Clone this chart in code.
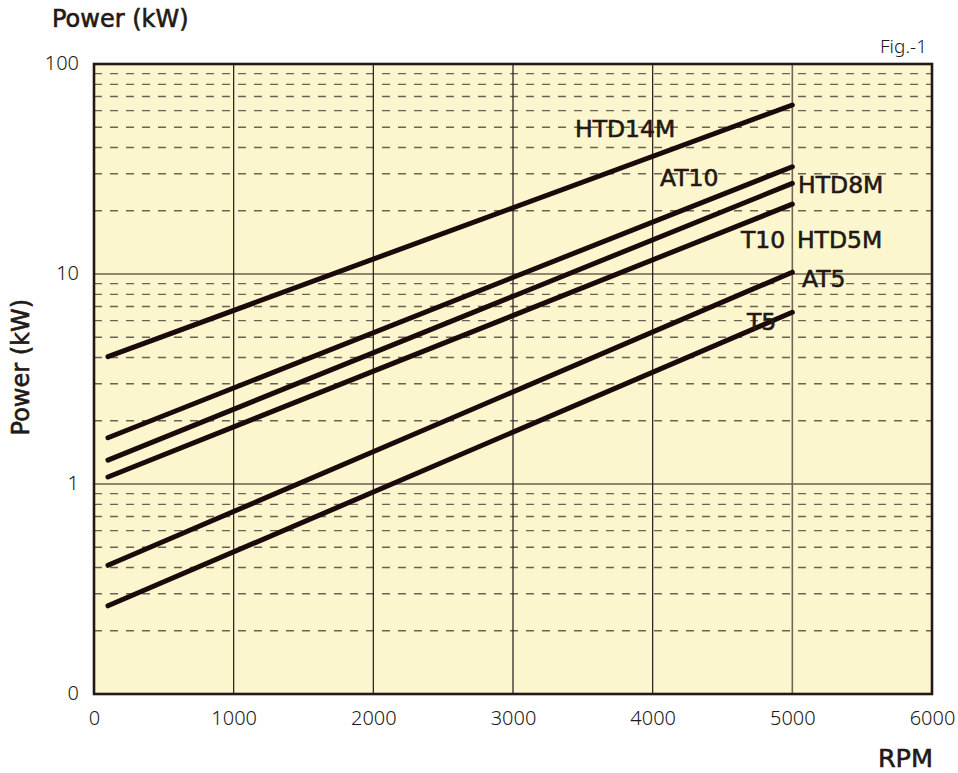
<!DOCTYPE html>
<html lang="en">
  <head>
    <meta charset="UTF-8" />
    <title>Power vs RPM</title>
    <script src="https://d3js.org/d3.v7.min.js"></script>
    <style>
      body {
        margin: 0;
        background: #ffffff;
      }
      svg text {
        fill: #231815;
      }
      .tick-label {
        font-family: 'Noto Sans', sans-serif;
        font-size: 20px;
        font-weight: 300;
      }
      .heavy {
        font-family: 'DejaVu Sans', sans-serif;
        stroke: #231815;
        stroke-width: 0.6px;
      }
    </style>
  </head>
  <body>
    <div id="chart"></div>
    <script>
      // belt series: power (kW) at the start and end rpm
      const rpmPoints = [100, 5000];
      const seriesNames = ['HTD14M', 'AT10', 'HTD8M', 'HTD5M', 'AT5', 'T5'];
      const seriesValues = [
        [4.04, 63.8],
        [1.66, 32.4],
        [1.3, 27.0],
        [1.08, 21.5],
        [0.41, 10.2],
        [0.263, 6.57],
      ];

      // label anchors in data units (rpm, kW)
      const labelTexts = ['HTD14M', 'AT10', 'HTD8M', 'T10', 'HTD5M', 'AT5', 'T5'];
      const labelRpm = [3444, 4052, 5041, 4632, 5033, 5069, 4675];
      const labelKw = [44.9, 26.2, 24.4, 13.3, 13.3, 8.67, 5.41];

      const xTicks = [0, 1000, 2000, 3000, 4000, 5000, 6000];
      const yTicks = [0.1, 1, 10, 100];
      const yTickLabels = ['0', '1', '10', '100'];

      const width = 958;
      const height = 773;
      const margin = { top: 64, right: 26, bottom: 79, left: 94 };

      const svg = d3
        .select('#chart')
        .append('svg')
        .attr('width', width)
        .attr('height', height);

      const x = d3
        .scaleLinear()
        .domain([0, 6000])
        .range([margin.left, width - margin.right]);

      const y = d3
        .scaleLog()
        .domain([0.1, 100])
        .range([height - margin.bottom, margin.top]);

      // plot background
      svg
        .append('rect')
        .attr('x', x(0))
        .attr('y', y(100))
        .attr('width', x(6000) - x(0))
        .attr('height', y(0.1) - y(100))
        .attr('fill', '#fcf6cf');

      // minor (dashed) grid: 2..9 in every decade
      const minor = [];
      for (const d of [0.1, 1, 10]) {
        for (let k = 2; k <= 9; k++) minor.push(d * k);
      }
      svg
        .append('g')
        .selectAll('line')
        .data(minor)
        .join('line')
        .attr('x1', x(0))
        .attr('x2', x(6000))
        .attr('y1', d => y(d))
        .attr('y2', d => y(d))
        .attr('stroke', '#6a6252')
        .attr('stroke-width', 1.4)
        .attr('stroke-dasharray', '8,8');

      // major grid
      svg
        .append('g')
        .selectAll('line')
        .data([1, 10])
        .join('line')
        .attr('x1', x(0))
        .attr('x2', x(6000))
        .attr('y1', d => y(d))
        .attr('y2', d => y(d))
        .attr('stroke', '#231815')
        .attr('stroke-width', 1.2);

      svg
        .append('g')
        .selectAll('line')
        .data(xTicks.slice(1, -1))
        .join('line')
        .attr('x1', d => x(d))
        .attr('x2', d => x(d))
        .attr('y1', y(100))
        .attr('y2', y(0.1))
        .attr('stroke', d => (d === 5000 ? '#6f6756' : '#231815'))
        .attr('stroke-width', d => (d === 5000 ? 1.6 : 1.2));

      // frame
      svg
        .append('rect')
        .attr('x', x(0))
        .attr('y', y(100))
        .attr('width', x(6000) - x(0))
        .attr('height', y(0.1) - y(100))
        .attr('fill', 'none')
        .attr('stroke', '#231815')
        .attr('stroke-width', 2.6);

      // axes (labels only)
      const xAxis = svg
        .append('g')
        .attr('transform', `translate(0,${y(0.1)})`)
        .call(
          d3
            .axisBottom(x)
            .tickValues(xTicks)
            .tickFormat(d3.format('d'))
            .tickSize(0)
            .tickPadding(17)
        );
      xAxis.select('.domain').remove();
      xAxis.selectAll('text').attr('class', 'tick-label');

      const yAxis = svg
        .append('g')
        .attr('transform', `translate(${x(0)},0)`)
        .call(
          d3
            .axisLeft(y)
            .tickValues(yTicks)
            .tickFormat((d, i) => yTickLabels[i])
            .tickSize(0)
            .tickPadding(15)
        );
      yAxis.select('.domain').remove();
      yAxis.selectAll('text').attr('class', 'tick-label').attr('dy', '0.25em');
      xAxis.attr('font-family', null).attr('font-size', null);
      yAxis.attr('font-family', null).attr('font-size', null);

      // series lines
      const line = d3
        .line()
        .x((d, i) => x(rpmPoints[i]))
        .y(d => y(d));

      svg
        .append('g')
        .selectAll('path')
        .data(seriesValues)
        .join('path')
        .attr('d', line)
        .attr('fill', 'none')
        .attr('stroke', '#1a0a0a')
        .attr('stroke-width', 5)
        .attr('stroke-linecap', 'round');

      // series labels
      svg
        .append('g')
        .selectAll('text')
        .data(labelTexts)
        .join('text')
        .attr('class', 'heavy')
        .attr('x', (d, i) => x(labelRpm[i]))
        .attr('y', (d, i) => y(labelKw[i]))
        .style('font-size', '23.5px')
        .text(d => d);

      // titles
      svg
        .append('text')
        .attr('class', 'heavy')
        .attr('x', 52)
        .attr('y', 27)
        .style('font-size', '24px')
        .text('Power (kW)');

      svg
        .append('text')
        .attr('class', 'heavy')
        .attr('transform', `translate(29,${y(3.6)}) rotate(-90)`)
        .attr('text-anchor', 'middle')
        .style('font-size', '24px')
        .text('Power (kW)');

      svg
        .append('text')
        .attr('class', 'heavy')
        .attr('x', 933)
        .attr('y', 767)
        .attr('text-anchor', 'end')
        .style('font-size', '25.5px')
        .text('RPM');

      svg
        .append('text')
        .attr('x', 927)
        .attr('y', 53)
        .attr('text-anchor', 'end')
        .style('font-family', "'Noto Sans', sans-serif")
        .style('font-size', '19px')
        .style('font-weight', '300')
        .text('Fig.-1');
    </script>
  </body>
</html>
